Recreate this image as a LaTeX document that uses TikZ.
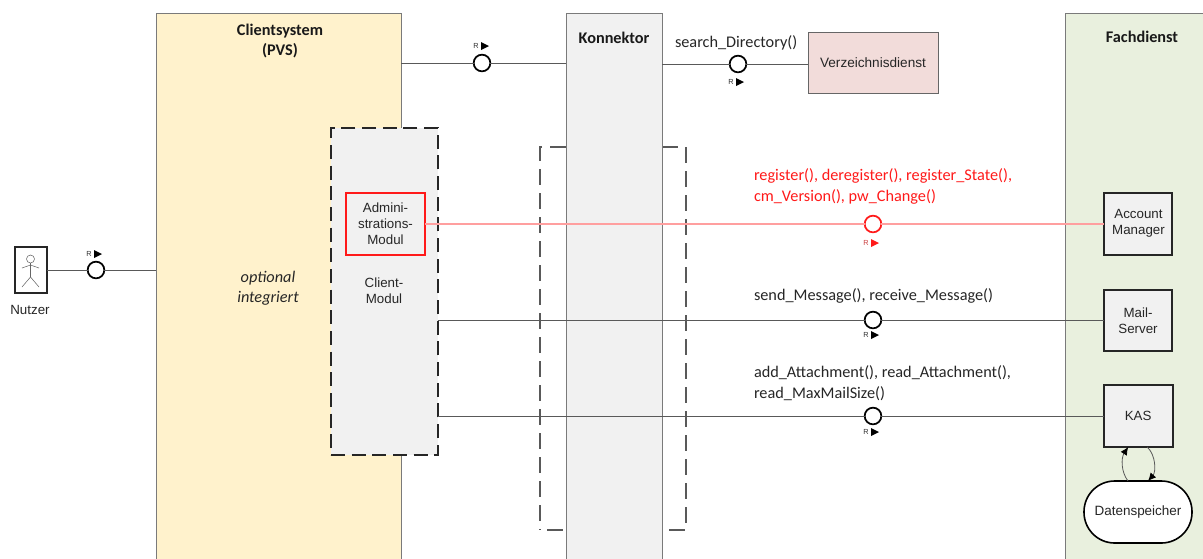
\documentclass[tikz,border=0pt]{standalone}
\usepackage{fontspec}
\setmainfont{Liberation Sans}
\newfontfamily\calib{Carlito}
\usetikzlibrary{arrows.meta,calc}
\definecolor{pvsfill}{HTML}{FFF2CC}
\definecolor{grayfill}{HTML}{F1F1F1}
\definecolor{fachfill}{HTML}{E9F0DE}
\definecolor{vzfill}{HTML}{F2DCDA}
\definecolor{edge}{HTML}{7A7A7A}
\definecolor{redline}{HTML}{FF9F9F}
\definecolor{redmain}{HTML}{FF1A1A}
\tikzset{
  every node/.style={inner sep=0pt,outer sep=0pt},
  column/.style={draw=edge,line width=0.6pt,anchor=north west},
  svc/.style={draw=black!85,fill=grayfill,line width=1.5pt,anchor=north west,align=center,font=\fontsize{10}{12.5}\selectfont,text=black!85},
  lollipop/.style={circle,draw=black,fill=white,line width=1.3pt,minimum size=12.5pt},
  link/.style={draw=black!65,line width=0.6pt},
  redlink/.style={draw=redline,line width=0.9pt},
  fn/.style={font=\calib\fontsize{12.2}{15.7}\selectfont,anchor=west,align=left,text=black!85},
  head/.style={font=\calib\bfseries\fontsize{12.2}{15}\selectfont,align=center,text=black!90},
  plain/.style={font=\fontsize{10}{12.3}\selectfont,align=center,text=black!85},
  rmark/.style={font=\fontsize{5.5}{6}\selectfont},
  frameline/.style={draw=black!65,line width=0.85pt,dash pattern=on 12pt off 6pt},
}
\newcommand{\rlabel}[4][black]{%
  \node[rmark,text=#1!60!gray] (#2) at (#3,#4) {R};
  \fill[#1] ($(#2)+(5,-4)$) -- ++(8,4) -- ++(-8,4) -- cycle;
}
\begin{document}
\begin{tikzpicture}[x=0.75pt,y=-0.75pt]
\useasboundingbox (0,0) rectangle (1203,558);
\clip (0,0) rectangle (1203,558);
\fill[white] (0,0) rectangle (1203,558);

% optional Konnektor frame
\draw[frameline] (566,147) -- (540,147) -- (540,530);
\draw[frameline] (547,530) -- (563,530);
\draw[frameline] (662,147) -- (686,147) -- (686,525);
\draw[frameline] (669,530) -- (685,530);

% columns
\node[column,fill=pvsfill,minimum width=183.75pt,minimum height=412.5pt] (pvs) at (156,13) {};
\node[column,fill=grayfill,minimum width=72pt,minimum height=412.5pt] (kon) at (566,13) {};
\node[column,fill=fachfill,minimum width=104pt,minimum height=412.5pt] (fach) at (1065,13) {};

\node[head] (pvstitle) at (280,41) {Clientsystem\\(PVS)};
\node[head] (kontitle) at (614,38) {Konnektor};
\node[head] (fachtitle) at (1142,37) {Fachdienst};
\node[font=\calib\itshape\fontsize{12.2}{15}\selectfont,align=center,text=black!85] (opt) at (268,288) {optional\\integriert};

% client module
\node[anchor=north west,fill=grayfill,draw=black!85,line width=1.5pt,dash pattern=on 10.5pt off 5pt,minimum width=80.25pt,minimum height=245.25pt] (client) at (331,128) {};
\node[plain] (clienttxt) at (384,291) {Client-\\Modul};
\node[anchor=north west,draw=redmain,fill=grayfill,line width=1.2pt,minimum width=59.25pt,minimum height=46.5pt,align=center,font=\fontsize{10}{12}\selectfont,text=black!85] (admin) at (346,193) {Admini-\\strations-\\Modul};

% services
\node[anchor=north west,draw=black!60,fill=vzfill,line width=0.6pt,minimum width=97.5pt,minimum height=45.75pt,font=\fontsize{10.2}{12}\selectfont,text=black!85] (vz) at (808,32) {Verzeichnisdienst};
\node[svc,minimum width=51pt,minimum height=46.5pt] (am) at (1104,193) {};
\node[plain,text=black!85] (amtxt) at (1138.5,223.5) {Account\\Manager};
\node[svc,minimum width=51pt,minimum height=46pt] (mail) at (1104,290) {Mail-\\Server};
\node[svc,minimum width=52pt,minimum height=46.5pt] (kas) at (1103.5,385) {KAS};
\node[draw=black,fill=white,line width=1.2pt,rounded corners=23pt,minimum width=81pt,minimum height=46.5pt,anchor=north west,font=\fontsize{10.1}{12}\selectfont,text=black!85] (ds) at (1084,481) {Datenspeicher};

% actor
\node[draw=black!85,fill=white,line width=1.5pt,anchor=north west,minimum width=24pt,minimum height=34.5pt] (nutzer) at (15,247) {};
\node[plain] (nutzertxt) at (30,310) {Nutzer};
\node[circle,draw=black!60,line width=0.4pt,minimum size=6pt] (nhead) at (30.5,259) {};
\draw[black!60,line width=0.4pt] (nhead.south) -- (30.5,277) -- (22,287) (30.5,277) -- (39,287) (22,268) -- (30.5,265) -- (39,268);

% lollipops
\node[lollipop] (l1) at (96,270) {};
\node[lollipop] (l2) at (482,63) {};
\node[lollipop] (l3) at (738,64) {};
\node[lollipop,draw=redmain] (l4) at (873,224) {};
\node[lollipop] (l5) at (873,320) {};
\node[lollipop] (l6) at (873,416) {};

% connectors
\draw[link] (nutzer.east |- l1) -- (l1);
\draw[link] (l1) -- (pvs.west |- l1);
\draw[link] (pvs.east |- l2) -- (l2);
\draw[link] (l2) -- (kon.west |- l2);
\draw[link] (kon.east |- l3) -- (l3);
\draw[link] (l3) -- (vz.west |- l3);
\draw[redlink] (admin.east |- l4) -- (l4);
\draw[redlink] (l4) -- (am.west |- l4);
\draw[link] (client.east |- l5) -- (l5);
\draw[link] (l5) -- (mail.west |- l5);
\draw[link] (client.east |- l6) -- (l6);
\draw[link] (l6) -- (kas.west |- l6);

% storage loop
\coordinate (dsa) at ($(ds.north)+(-10,0)$);
\coordinate (kasa) at ($(kas.south)+(-10,0)$);
\coordinate (kasb) at ($(kas.south)+(9,0)$);
\coordinate (dsb) at ($(ds.north)+(10,0)$);
\draw[link,-{Latex[length=6pt,width=5.5pt,black]}] (dsa) .. controls (1121,472) and (1121,458) .. (kasa);
\draw[link,-{Latex[length=6pt,width=5.5pt,black]}] (kasb) .. controls (1156,455) and (1156,472) .. (dsb);

% R marks
\rlabel{r1}{89}{254}
\rlabel{r2}{476}{46}
\rlabel{r3}{731}{82}
\rlabel[redmain]{r4}{866}{243}
\rlabel{r5}{866}{335}
\rlabel{r6}{866}{432}

% function labels
\node[fn] (f1) at (675,43) {search\_Directory()};
\node[fn,text=redmain] (f2) at (754,186) {register(), deregister(), register\_State(),\\cm\_Version(), pw\_Change()};
\node[fn] (f3) at (754,296) {send\_Message(), receive\_Message()};
\node[fn] (f4) at (754,383) {add\_Attachment(), read\_Attachment(),\\read\_MaxMailSize()};
\end{tikzpicture}
\end{document}
